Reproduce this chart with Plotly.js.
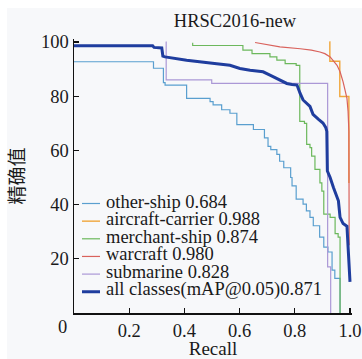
<!DOCTYPE html>
<html>
<head>
<meta charset="utf-8">
<script src="https://cdn.plot.ly/plotly-3.0.1.min.js"></script>
<style>
html,body{margin:0;padding:0;background:#ffffff;}
#chart{width:362px;height:359px;}
</style>
</head>
<body>
<div id="chart"></div>
<script>
// ---------- data ----------
const chartTitle = 'HRSC2016-new';
const xTitle = 'Recall';
const yTitle = '精确值';
const xTickVals = [0.2, 0.4, 0.6, 0.8, 1.0];
const xTickText = ['0.2', '0.4', '0.6', '0.8', '1.0'];
const yTickVals = [20, 40, 60, 80, 100];
const yTickText = ['20', '40', '60', '80', '100'];
const originLabel = '0';

const classNames = ['other-ship', 'aircraft-carrier', 'merchant-ship', 'warcraft', 'submarine', 'all classes(mAP@0.05)'];
const apValues = ['0.684', '0.988', '0.874', '0.980', '0.828', '0.871'];

const otherShipRecall = [0, 0.288, 0.324, 0.33, 0.408, 0.493, 0.504, 0.535, 0.565, 0.59, 0.65, 0.69, 0.703, 0.713, 0.735, 0.745, 0.76, 0.785, 0.79, 0.805, 0.83, 0.842, 0.855, 0.867, 0.89, 0.905, 0.92, 0.935, 0.945, 0.964];
const otherShipPrecision = [92.7, 90.3, 85.0, 84.1, 79.2, 78.0, 76.8, 75.0, 73.7, 69.5, 67.7, 64.6, 61.5, 60.3, 58.5, 56.0, 53.6, 50.0, 46.9, 42.0, 40.2, 37.7, 35.3, 32.2, 28.0, 24.3, 22.5, 15.8, 12.8, 0];

const carrierRecall = [0.925, 0.927, 0.963, 0.996];
const carrierPrecision = [100, 92.9, 79.9, 48.0];

const merchantRecall = [0.428, 0.43, 0.612, 0.645, 0.71, 0.735, 0.765, 0.805, 0.818, 0.835, 0.843, 0.855, 0.861, 0.873, 0.891, 0.898, 0.905, 0.928, 0.946, 0.957, 0.964];
const merchantPrecision = [99.5, 98.7, 97.0, 95.7, 94.5, 93.3, 92.0, 91.4, 70.7, 70.0, 62.2, 61.0, 57.9, 53.0, 48.0, 45.0, 36.5, 35.3, 29.3, 28.0, 0];

const warcraftRecall = [0.656, 0.674, 0.71, 0.746, 0.82, 0.86, 0.891, 0.909, 0.928, 0.938, 0.953, 0.964, 0.975, 0.989, 0.993, 0.996, 0.997];
const warcraftPrecision = [99.8, 99.5, 98.8, 98.2, 97.5, 97.0, 96.3, 95.7, 94.5, 93.3, 91.4, 89.0, 85.3, 79.2, 74.4, 67.0, 25.0];

const submarineRecall = [0.332, 0.334, 0.499, 0.919, 0.93];
const submarinePrecision = [100, 86.0, 84.7, 17.0, 0];

const allRecall = [0, 0.285, 0.29, 0.318, 0.322, 0.33, 0.408, 0.467, 0.517, 0.565, 0.601, 0.638, 0.685, 0.71, 0.734, 0.771, 0.79, 0.808, 0.819, 0.83, 0.855, 0.866, 0.885, 0.902, 0.912, 0.916, 0.918, 0.928, 0.94, 0.958, 0.964, 0.975, 0.989, 0.994, 1.0];
const allPrecision = [98.6, 98.6, 98.0, 97.8, 94.8, 94.5, 93.3, 92.7, 92.0, 91.4, 90.2, 89.6, 89.0, 87.8, 86.6, 84.7, 84.3, 84.1, 81.1, 78.6, 76.2, 73.3, 71.5, 70.1, 68.5, 67.0, 52.4, 50.0, 46.3, 41.4, 35.3, 33.0, 32.0, 24.0, 11.5];

// ---------- styles ----------
const colors = ['#5a9fcf', '#f0a63a', '#6cb85c', '#d9625c', '#ab98d6', '#1f3d9e'];
const widths = [1.2, 1.4, 1.2, 1.2, 1.2, 3];
const shapesMode = ['hv', 'hv', 'hv', 'linear', 'hv', 'linear'];
const seriesX = [otherShipRecall, carrierRecall, merchantRecall, warcraftRecall, submarineRecall, allRecall];
const seriesY = [otherShipPrecision, carrierPrecision, merchantPrecision, warcraftPrecision, submarinePrecision, allPrecision];

const W = 362, H = 359, ML = 74, MR = 10, MT = 39, MB = 46;
const PW = W - ML - MR, PH = H - MT - MB;
const px2x = px => (px - ML) / PW;
const py2y = py => (H - MB - py) / PH;
const serif = 'Liberation Serif';
const textColor = '#1a1a1a';

const traces = seriesX.map((xs, i) => ({
  type: 'scatter', mode: 'lines',
  x: xs, y: seriesY[i],
  line: {color: colors[i], width: widths[i], shape: shapesMode[i]},
  hoverinfo: 'skip', showlegend: false
}));

// compact legend built from shapes + text
const shapes = [{
  type: 'rect', xref: 'paper', yref: 'paper', layer: 'below',
  x0: px2x(7), x1: px2x(W + 2), y0: py2y(8), y1: py2y(H + 2),
  fillcolor: '#f7f8fa', line: {width: 0}
}];
const annotations = [];
const legendTop = 203.5, legendStep = 17.65;
classNames.forEach((name, i) => {
  const ly = legendTop + i * legendStep;
  shapes.push({
    type: 'line', xref: 'paper', yref: 'paper',
    x0: px2x(82), x1: px2x(100), y0: py2y(ly), y1: py2y(ly),
    line: {color: colors[i], width: widths[i]}
  });
  annotations.push({
    xref: 'paper', yref: 'paper', x: px2x(104), y: py2y(ly - 2),
    xanchor: 'left', yanchor: 'middle', showarrow: false,
    text: i === classNames.length - 1 ? name + apValues[i] : name + ' ' + apValues[i],
    font: {family: serif, size: 18.5, color: textColor}
  });
});

annotations.push({
  xref: 'paper', yref: 'paper', x: px2x(62), y: py2y(327),
  xanchor: 'center', yanchor: 'middle', showarrow: false,
  text: originLabel, font: {family: serif, size: 18.5, color: textColor}
});

const axisCommon = {
  showline: true, linecolor: '#111', linewidth: 1.5,
  ticks: 'inside', ticklen: 5, tickwidth: 1.3, tickcolor: '#111',
  showgrid: false, zeroline: false,
  tickfont: {family: serif, size: 18.5, color: textColor},
  fixedrange: true
};

const layout = {
  width: W, height: H,
  margin: {l: ML, r: MR, t: MT, b: MB, pad: 0},
  paper_bgcolor: '#ffffff', plot_bgcolor: 'rgba(0,0,0,0)',
  title: {
    text: chartTitle, font: {family: serif, size: 18.5, color: textColor},
    x: 235 / W, xref: 'container', xanchor: 'center',
    y: 1 - 21 / H, yref: 'container', yanchor: 'middle'
  },
  xaxis: Object.assign({}, axisCommon, {
    range: [0, PW / 276], tickmode: 'array', tickvals: xTickVals, ticktext: xTickText,
    title: {text: xTitle, font: {family: serif, size: 19, color: textColor}, standoff: 6}
  }),
  yaxis: Object.assign({}, axisCommon, {
    range: [0, 101.1], tickmode: 'array', tickvals: yTickVals, ticktext: yTickText,
    title: {text: yTitle, font: {family: 'Noto Sans CJK SC', size: 19, color: textColor}, standoff: 11}
  }),
  shapes: shapes,
  annotations: annotations
};

Plotly.newPlot('chart', traces, layout, {displayModeBar: false, staticPlot: true});
</script>
</body>
</html>
